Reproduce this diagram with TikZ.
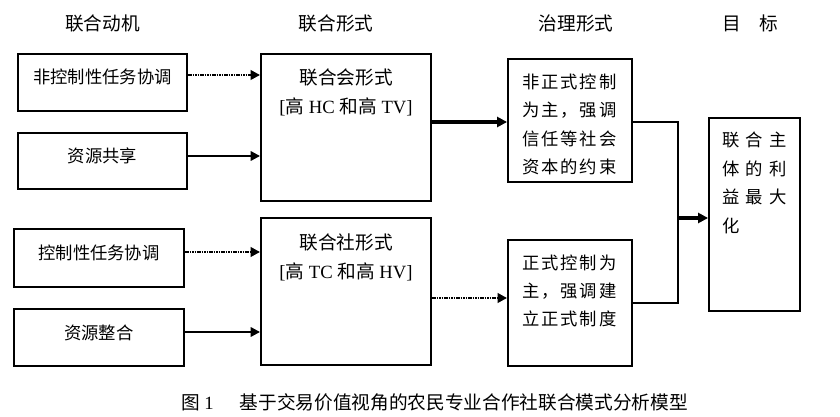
\documentclass[tikz,border=0pt]{standalone}
\usepackage{fontspec}
\setmainfont{Liberation Serif}
\newfontfamily\cjk{Noto Sans CJK SC}
\newfontfamily\cjkgov[LetterSpace=10]{Noto Sans CJK SC}
\newfontfamily\cjktgt[LetterSpace=34]{Noto Sans CJK SC}
\usetikzlibrary{arrows.meta}
\begin{document}
\begin{tikzpicture}[x=0.75pt,y=-0.75pt,
  box/.style={draw=black,line width=1.4pt,fill=none,inner sep=0pt},
  txt/.style={inner sep=0pt,font=\fontsize{13pt}{21.5pt}\selectfont\cjk},
  head/.style={inner sep=0pt,font=\fontsize{14pt}{16pt}\selectfont\cjk},
  arr/.style={line width=1.6pt,-{Triangle[length=7pt,width=7pt]}},
  dotarr/.style={arr,dash pattern=on 1.3pt off 0.5pt,line width=2pt},
  thickarr/.style={line width=2.4pt,-{Triangle[length=7.5pt,width=7.5pt]}},
  link/.style={line width=1.3pt}]
\useasboundingbox (0,0) rectangle (840,417);
% headers
\node[head] (h1) at (102.5,23) {联合动机};
\node[head] (h2) at (336,23) {联合形式};
\node[head] (h3) at (576,23) {治理形式};
\node[head] (h4) at (750,23) {目\hspace{1em}标};
% left boxes
\node[box,minimum width=126.75pt,minimum height=42.75pt] (a1) at (102.5,82.5) {};
\node[box,minimum width=126.75pt,minimum height=42pt] (a2) at (102.5,161) {};
\node[box,minimum width=127.5pt,minimum height=43.5pt] (a3) at (99,258) {};
\node[box,minimum width=127.5pt,minimum height=42.75pt] (a4) at (99,337.5) {};
\node[txt] (ta1) at ([yshift=4pt]a1.center) {非控制性任务协调};
\node[txt] (ta2) at ([yshift=4pt]a2.center) {资源共享};
\node[txt] (ta3) at ([yshift=3.5pt]a3.center) {控制性任务协调};
\node[txt] (ta4) at ([yshift=3.5pt]a4.center) {资源整合};
% middle boxes
\node[box,minimum width=127.5pt,minimum height=110.25pt] (m1) at (346,127.5) {};
\node[box,minimum width=127.5pt,minimum height=110.25pt] (m2) at (346,291.5) {};
\node[txt,align=center,font=\fontsize{14pt}{21.75pt}\selectfont] (tm1) at (346,92.5) {{\cjk 联合会形式}\\\relax{[}{\cjk 高} HC {\cjk 和高} TV{]}};
\node[txt,align=center,font=\fontsize{14pt}{21.75pt}\selectfont] (tm2) at (346,257) {{\cjk 联合社形式}\\\relax{[}{\cjk 高} TC {\cjk 和高} HV{]}};
% governance boxes
\node[box,minimum width=93pt,minimum height=92.25pt] (g1) at (570,120.5) {};
\node[box,minimum width=93pt,minimum height=94.5pt] (g2) at (570,303) {};
\node[txt,align=left,anchor=west,font=\fontsize{13pt}{21.25pt}\selectfont\cjkgov] (tg1) at (522.5,124.5) {非正式控制\\为主，强调\\信任等社会\\资本的约束};
\node[txt,align=left,anchor=west,font=\fontsize{13pt}{21.25pt}\selectfont\cjkgov] (tg2) at (522.5,291) {正式控制为\\主，强调建\\立正式制度};
% target
\node[box,minimum width=68.25pt,minimum height=144.75pt] (t) at (754.5,214.5) {};
\node[txt,align=left,anchor=west,font=\fontsize{13pt}{21.5pt}\selectfont\cjktgt] (tt) at (722.5,183) {联合主\\体的利\\益最大\\化};
% connectors
\draw[dotarr] (a1.east|-0,75) -- (m1.west|-0,75);
\draw[arr] (a2.east|-0,156) -- (m1.west|-0,156);
\draw[dotarr] (a3.east|-0,252) -- (m2.west|-0,252);
\draw[arr] (a4.east|-0,332) -- (m2.west|-0,332);
\draw[thickarr] (m1.east|-0,122) -- (g1.west|-0,122);
\draw[dotarr] (m2.east|-0,298) -- (g2.west|-0,298);
\coordinate (j) at (678,218);
\draw[link] (g1.east|-0,122) -| (j) |- (g2.east|-0,303);
\draw[thickarr] (j) -- (t.west|-j);
% caption
\node[inner sep=0pt,font=\fontsize{14pt}{16pt}\selectfont] (cap) at (434.5,402) {{\cjk 图} 1\hspace{1.4em}{\cjk 基于交易价值视角的农民专业合作社联合模式分析模型}};
\end{tikzpicture}
\end{document}
